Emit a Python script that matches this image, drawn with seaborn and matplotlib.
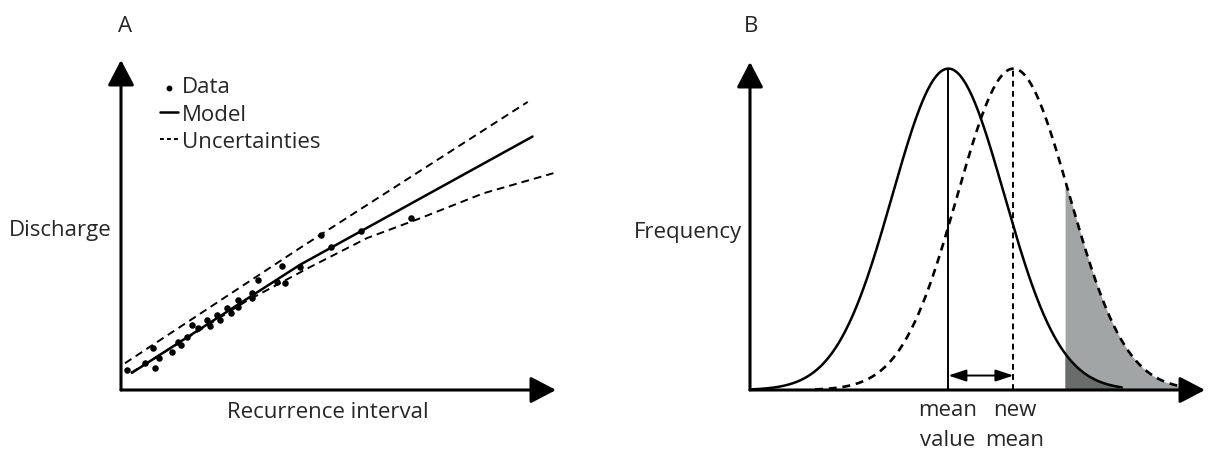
import numpy as np
import pandas as pd
import matplotlib
matplotlib.use("Agg")
import matplotlib.pyplot as plt
import seaborn as sns

# ---- panel A: discharge vs recurrence interval (schematic units 0-100)
data_x = [1.4, 5.5, 7.8, 8.8, 7.3, 11.7, 13.2, 13.7, 15.1, 16.3, 17.8, 19.7, 20.5, 22.0, 22.8,
          24.3, 25.2, 26.8, 27.0, 30.0, 30.0, 31.6, 35.8, 37.7, 36.9, 41.1, 46.0, 48.3, 55.1, 66.7]
data_y = [6.1, 8.1, 6.6, 9.6, 12.6, 11.6, 14.6, 13.6, 16.2, 19.7, 18.7, 21.2, 19.4, 22.7, 21.2,
          24.8, 23.4, 27.3, 25.2, 29.3, 27.8, 33.3, 32.8, 32.5, 37.6, 37.4, 47.0, 43.3, 48.3, 52.0]
model_x = [2.5, 41.1, 94.6]
model_y = [5.2, 37.9, 76.8]
upper_x = [0.9, 41.1, 93.5]
upper_y = [8.1, 43.0, 87.3]
lower_x = [2.3, 28.9, 43.4, 56.5, 68.7, 83.3, 99.4]
lower_y = [5.2, 27.0, 37.2, 46.0, 52.0, 59.6, 65.7]
legend_labels = ["Data", "Model", "Uncertainties"]

# ---- panel B: frequency distributions (schematic units 0-100)
mean_value = 43.6
new_mean = 57.9
spread = 12.3
solid_range = (0.0, 81.7)
dashed_range = (14.3, 95.2)
tail_start = 69.2

W, H = 1221, 450
FONT = ["Open Sans", "DejaVu Sans"]

sns.set_theme(style="white")
plt.rcParams["font.family"] = FONT

fig = plt.figure(figsize=(W / 100, H / 100), dpi=100)


def px_axes(x0, x1, y_top, y_bot):
    return fig.add_axes([x0 / W, (H - y_bot) / H, (x1 - x0) / W, (y_bot - y_top) / H])


def ftext(px, py, s, **kw):
    fig.text(px / W, 1 - py / H, s, **kw)


def arrow_axes(ax):
    sty = "-|>,head_length=0.65,head_width=0.34"
    for tip in [(1, 0), (0, 1)]:
        ax.annotate("", xy=tip, xytext=(0, 0), xycoords="axes fraction",
                    arrowprops=dict(arrowstyle=sty, lw=2.2, color="black",
                                    mutation_scale=24, shrinkA=0, shrinkB=0))
    for s in ax.spines.values():
        s.set_visible(False)
    ax.set_xticks([])
    ax.set_yticks([])
    ax.set_xlabel("")
    ax.set_ylabel("")


# ---------------- panel A
axA = px_axes(121, 556, 60, 390)
axA.set_xlim(0, 100)
axA.set_ylim(0, 100)
sns.lineplot(x=upper_x, y=upper_y, ax=axA, color="black", lw=1.4,
             linestyle=(0, (4, 2.6)), sort=False)
sns.lineplot(x=lower_x, y=lower_y, ax=axA, color="black", lw=1.4,
             linestyle=(0, (4, 2.6)), sort=False)
sns.lineplot(x=model_x, y=model_y, ax=axA, color="black", lw=1.8, sort=False)
sns.scatterplot(x=data_x, y=data_y, ax=axA, color="black", s=22, linewidth=0, zorder=5)

# legend drawn by hand to mimic the figure
axA.plot([11.0], [91.6], "o", color="black", ms=3.2, clip_on=False)
axA.plot([9.0, 13.2], [84.3, 84.3], color="black", lw=1.8)
axA.plot([9.0, 13.2], [76.2, 76.2], color="black", lw=1.4, linestyle=(0, (2, 1.6)))
for lab, yy in zip(legend_labels, [89.9, 81.5, 73.4]):
    axA.text(14.0, yy, lab, fontsize=16, va="baseline", ha="left")
arrow_axes(axA)

ftext(125, 32, "A", fontsize=16, ha="center", va="baseline")
ftext(112, 236, "Discharge", fontsize=16, ha="right", va="baseline")
ftext(328, 418, "Recurrence interval", fontsize=16, ha="center", va="baseline")

# ---------------- panel B
axB = px_axes(750, 1205, 62, 390)
axB.set_xlim(0, 100)
axB.set_ylim(0, 328 / 321.4)

xs = np.linspace(solid_range[0], solid_range[1], 400)
xd = np.linspace(dashed_range[0], dashed_range[1], 400)
dist = pd.DataFrame({"x": xs, "y": np.exp(-0.5 * ((xs - mean_value) / spread) ** 2)})
dist_new = pd.DataFrame({"x": xd, "y": np.exp(-0.5 * ((xd - new_mean) / spread) ** 2)})

tail = dist_new[dist_new["x"] >= tail_start]
axB.fill_between(tail["x"], 0, tail["y"], color="#a2a5a5", lw=0)
tail_old = dist[dist["x"] >= tail_start]
axB.fill_between(tail_old["x"], 0, tail_old["y"], color="#686d6c", lw=0)

sns.lineplot(data=dist, x="x", y="y", ax=axB, color="black", lw=1.8)
sns.lineplot(data=dist_new, x="x", y="y", ax=axB, color="black", lw=1.9,
             linestyle=(0, (3, 2.2)))
axB.plot([mean_value, mean_value], [0, 1], color="black", lw=1.4)
axB.plot([new_mean, new_mean], [0, 1], color="black", lw=1.4, linestyle=(0, (3, 2.2)))
axB.annotate("", xy=(new_mean, 0.045), xytext=(mean_value, 0.045),
             arrowprops=dict(arrowstyle="<|-|>,head_length=0.9,head_width=0.3",
                             lw=1.4, color="black", mutation_scale=12,
                             shrinkA=0, shrinkB=0))
arrow_axes(axB)

ftext(751, 32, "B", fontsize=16, ha="center", va="baseline")
ftext(742, 238, "Frequency", fontsize=16, ha="right", va="baseline")
ftext(948, 416, "mean", fontsize=16, ha="center", va="baseline")
ftext(948, 446, "value", fontsize=16, ha="center", va="baseline")
ftext(1015, 416, "new", fontsize=16, ha="center", va="baseline")
ftext(1015, 446, "mean", fontsize=16, ha="center", va="baseline")

fig.savefig("out.png", dpi=100)
